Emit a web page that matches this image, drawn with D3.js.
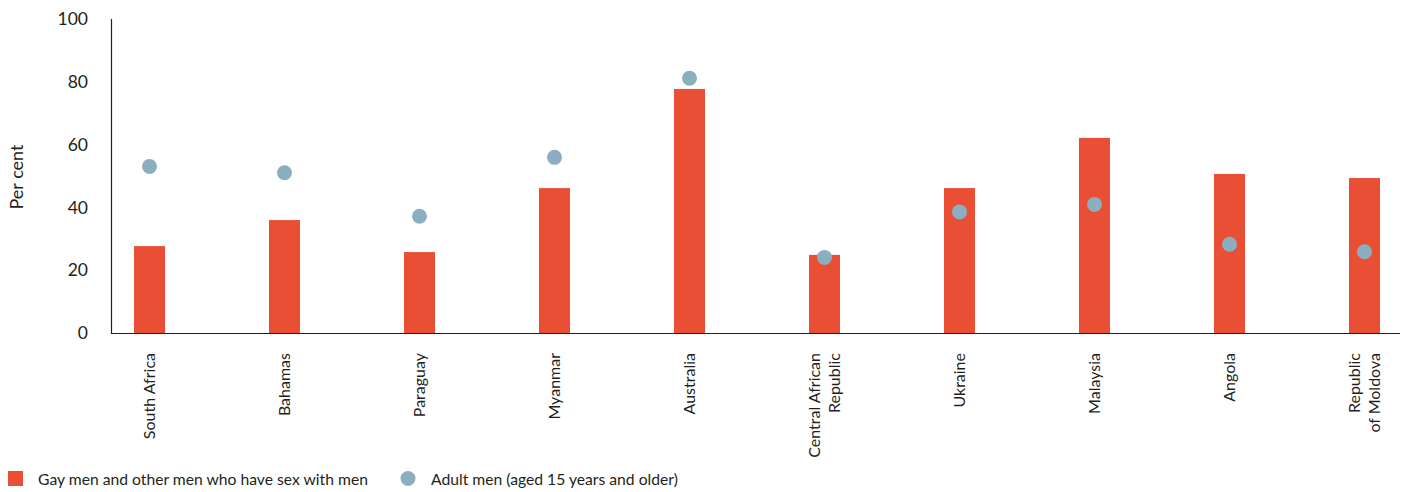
<!DOCTYPE html>
<html>
<head>
<meta charset="utf-8">
<script src="https://cdn.jsdelivr.net/npm/d3@7"></script>
<style>
  html, body { margin: 0; padding: 0; background: #fff; }
  svg { display: block; }
  text { font-family: Lato, "Noto Sans", sans-serif; fill: #231F20; }
</style>
</head>
<body>
<svg id="chart" width="1408" height="492"></svg>
<script>
const categories = ["South Africa", "Bahamas", "Paraguay", "Myanmar", "Australia",
  "Central African Republic", "Ukraine", "Malaysia", "Angola", "Republic of Moldova"];
const categoryLines = [["South Africa"], ["Bahamas"], ["Paraguay"], ["Myanmar"], ["Australia"],
  ["Central African", "Republic"], ["Ukraine"], ["Malaysia"], ["Angola"], ["Republic", "of Moldova"]];
const msmValues = [27.7, 36.0, 25.8, 46.2, 77.8, 24.9, 46.2, 62.2, 50.7, 49.4];
const adultMenValues = [53.1, 51.1, 37.2, 56.0, 81.2, 24.1, 38.6, 41.0, 28.3, 25.9];
const yTicks = [0, 20, 40, 60, 80, 100];
const seriesNames = ["Gay men and other men who have sex with men", "Adult men (aged 15 years and older)"];

const svg = d3.select("#chart");
const barColor = "#E94F35";
const dotColor = "#8BAFC0";

const x = d3.scaleBand().domain(categories).range([82, 1432]).paddingInner(0.77).paddingOuter(0.385);
const y = d3.scaleLinear().domain([0, 100]).range([333, 19.3]);

// bars
svg.append("g").selectAll("rect").data(categories).join("rect")
  .attr("x", (d, i) => x(d) + x.bandwidth() / 2 - 15.5)
  .attr("width", 31)
  .attr("y", (d, i) => y(msmValues[i]))
  .attr("height", (d, i) => y(0) - y(msmValues[i]))
  .attr("fill", barColor);

// dots
svg.append("g").selectAll("circle").data(categories).join("circle")
  .attr("cx", d => x(d) + x.bandwidth() / 2)
  .attr("cy", (d, i) => y(adultMenValues[i]))
  .attr("r", 7.5)
  .attr("fill", dotColor);

// y axis
const yAxis = d3.axisLeft(y).tickValues(yTicks).tickSize(0).tickPadding(23);
const gy = svg.append("g").attr("transform", "translate(111,0)").call(yAxis);
gy.select(".domain").remove();
gy.selectAll("text").style("font-size", "17.5px").style("font-family", "Lato, 'Noto Sans', sans-serif").attr("fill", "#231F20");
svg.append("line").attr("x1", 111.5).attr("x2", 111.5).attr("y1", 19).attr("y2", 333.5)
  .attr("stroke", "#231F20").attr("stroke-width", 1.2);
svg.append("line").attr("x1", 111).attr("x2", 1400).attr("y1", 333.5).attr("y2", 333.5)
  .attr("stroke", "#231F20").attr("stroke-width", 1.2);

// y title
svg.append("text").attr("transform", "translate(23,177) rotate(-90)")
  .attr("text-anchor", "middle").style("font-size", "18px").text("Per cent");

// x labels
const xl = svg.append("g").selectAll("text").data(categories).join("text")
  .attr("transform", d => `translate(${x(d) + x.bandwidth() / 2},353) rotate(-90)`)
  .attr("text-anchor", "end")
  .style("font-size", "16px");
xl.each(function(d, i) {
  const lines = categoryLines[i];
  const n = lines.length;
  d3.select(this).selectAll("tspan").data(lines).join("tspan")
    .attr("x", 0)
    .attr("y", (l, j) => (j - (n - 1) / 2) * 20 + 5.5)
    .text(l => l);
});

// legend
const lg = svg.append("g");
lg.append("rect").attr("x", 8).attr("y", 471).attr("width", 15).attr("height", 15).attr("fill", barColor);
lg.append("text").attr("x", 38).attr("y", 485).style("font-size", "15.7px").text(seriesNames[0]);
lg.append("circle").attr("cx", 408).attr("cy", 478.5).attr("r", 7.5).attr("fill", dotColor);
lg.append("text").attr("x", 431).attr("y", 485).style("font-size", "15.7px").text(seriesNames[1]);
</script>
</body>
</html>
